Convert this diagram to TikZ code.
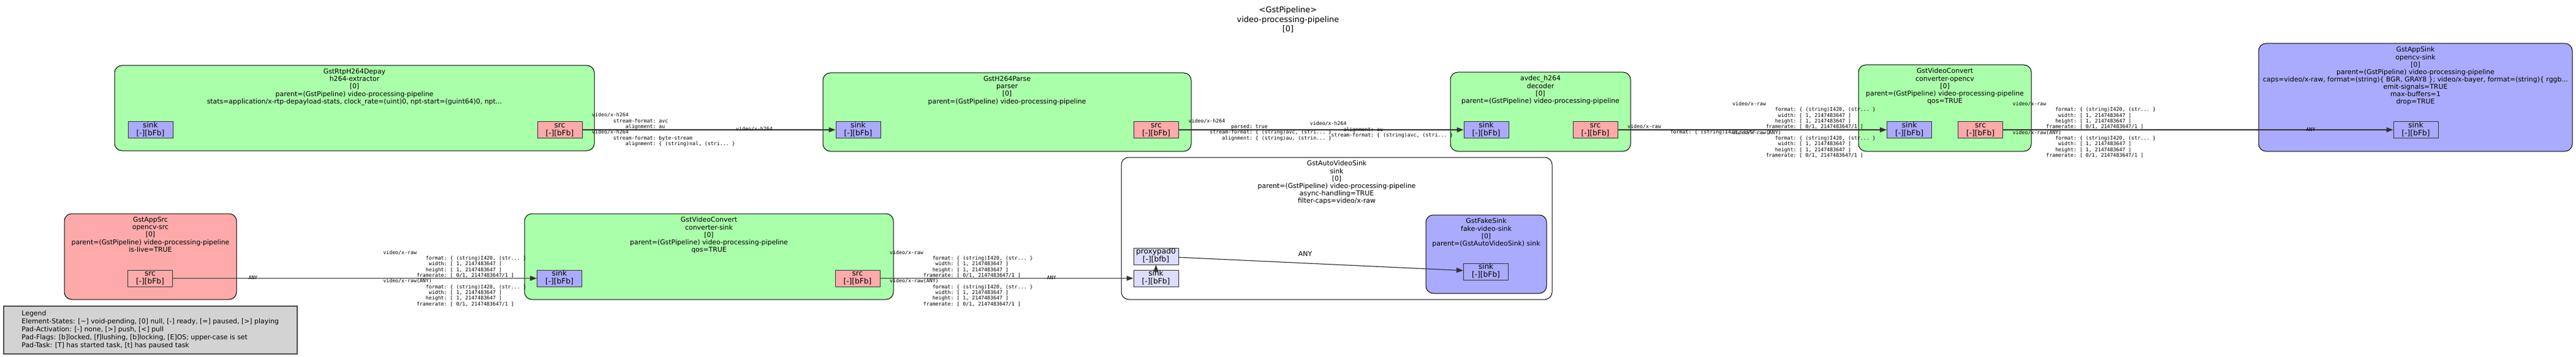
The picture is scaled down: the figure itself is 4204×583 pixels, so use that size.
\documentclass[tikz,border=0pt]{standalone}
\usepackage{fontspec}
\setmainfont{DejaVu Sans}
\newfontfamily\capsfamily{DejaVu Sans Mono}
\usetikzlibrary{positioning,arrows.meta}
\definecolor{elemgreen}{HTML}{AAFFAA}
\definecolor{elempink}{HTML}{FFAAAA}
\definecolor{elemblue}{HTML}{AAAAFF}
\definecolor{padghost}{HTML}{DDDDFF}
\definecolor{legendgray}{HTML}{D3D3D3}
\newcommand\capspad[1]{\hspace*{#1\fontcharwd\font`0}}
\newcommand\rawcaps{video/x-raw\\%
\capspad{14}format: \{ (string)I420, (str... \}\\%
\capspad{15}width: [ 1, 2147483647 ]\\%
\capspad{14}height: [ 1, 2147483647 ]\\%
\capspad{11}framerate: [ 0/1, 2147483647/1 ]\\%
video/x-raw(ANY)\\%
\capspad{14}format: \{ (string)I420, (str... \}\\%
\capspad{15}width: [ 1, 2147483647 ]\\%
\capspad{14}height: [ 1, 2147483647 ]\\%
\capspad{11}framerate: [ 0/1, 2147483647/1 ]}
\begin{document}
\begin{tikzpicture}
[x=1pt,y=-1pt,
  elemDecorate/.style={draw=black,line width=1pt,rounded corners=12pt,inner sep=0pt},%
  elemLabel/.style={font=\fontsize{10.9}{12.1}\selectfont,align=center,inner sep=0pt},%
  padDecorate/.style={draw=black!80,line width=1pt,inner sep=0pt,minimum width=73pt,%
    minimum height=27pt,align=center,font=\fontsize{12.2}{13.3}\selectfont},%
  capsDecorate/.style={font=\capsfamily\fontsize{8.25}{9.33}\selectfont\frenchspacing,%
    align=left,inner sep=0pt},%
  lineDecorate/.style={-{Triangle[length=11pt,width=8pt]},draw=black!80,line width=1.2pt},%
  legendDecorate/.style={draw=black!70,line width=1.5pt,fill=legendgray,anchor=north west,%
    minimum width=479pt,minimum height=78pt,align=left,inner sep=0pt,%
    font=\fontsize{10.9}{13}\selectfont}]
\useasboundingbox (0,0) rectangle (4204,583);
%% pipeline title
\node (pipelinetitle) at (2102,10.8) [anchor=north,align=center,inner sep=0pt,
  font=\fontsize{13}{15.5}\selectfont] {<GstPipeline>\\video-processing-pipeline\\{}[0]};
%% elements
\foreach \elname/\cx/\cy/\w/\h/\colour in {
  depay/578.5/176.5/783/139/elemgreen, parse/1643.5/183/601/128/elemgreen,
  decoder/2514/182.5/294/129/elemgreen, cvtcv/3174/176.5/282/141/elemgreen,
  appsink/3942/159/512/176/elemblue, appsrc/245.5/419/281/140/elempink,
  cvtsink/1157/419/602/140/elemgreen, autosink/2181.5/373/703/232/white,
  fakesink/2425.5/415/197/128/elemblue}
{
  \node (\elname) at (\cx,\cy) [elemDecorate,fill=\colour,minimum width=\w pt,minimum height=\h pt] {};
}
\node [elemLabel,below=6pt of depay.north] (depaylabel) {GstRtpH264Depay\\h264-extractor\\{}[0]\\
  parent=(GstPipeline) video-processing-pipeline\\
  stats=application/x-rtp-depayload-stats, clock\_rate=(uint)0, npt-start=(guint64)0, npt...};
\node [elemLabel,below=6pt of parse.north] (parselabel) {GstH264Parse\\parser\\{}[0]\\
  parent=(GstPipeline) video-processing-pipeline};
\node [elemLabel,below=6pt of decoder.north] (decoderlabel) {avdec\_h264\\decoder\\{}[0]\\
  parent=(GstPipeline) video-processing-pipeline};
\node [elemLabel,below=6pt of cvtcv.north] (cvtcvlabel) {GstVideoConvert\\converter-opencv\\{}[0]\\
  parent=(GstPipeline) video-processing-pipeline\\qos=TRUE};
\node [elemLabel,below=6pt of appsink.north] (appsinklabel) {GstAppSink\\opencv-sink\\{}[0]\\
  parent=(GstPipeline) video-processing-pipeline\\
  caps=video/x-raw, format=(string)\{ BGR, GRAY8 \}; video/x-bayer, format=(string)\{ rggb...\\
  emit-signals=TRUE\\max-buffers=1\\drop=TRUE};
\node [elemLabel,below=6pt of appsrc.north] (appsrclabel) {GstAppSrc\\opencv-src\\{}[0]\\
  parent=(GstPipeline) video-processing-pipeline\\is-live=TRUE};
\node [elemLabel,below=6pt of cvtsink.north] (cvtsinklabel) {GstVideoConvert\\converter-sink\\{}[0]\\
  parent=(GstPipeline) video-processing-pipeline\\qos=TRUE};
\node [elemLabel,below=6pt of autosink.north] (autosinklabel) {GstAutoVideoSink\\sink\\{}[0]\\
  parent=(GstPipeline) video-processing-pipeline\\async-handling=TRUE\\filter-caps=video/x-raw};
\node [elemLabel,below=6pt of fakesink.north] (fakesinklabel) {GstFakeSink\\fake-video-sink\\{}[0]\\
  parent=(GstAutoVideoSink) sink};
%% pads
\foreach \padname/\cx/\cy/\padlabel/\padflags/\colour in {
  depaysink/245.5/212/sink/[-][bFb]/elemblue, depaysrc/913.5/212/src/[-][bFb]/elempink,
  parsesink/1400.5/212/sink/[-][bFb]/elemblue, parsesrc/1887/212/src/[-][bFb]/elempink,
  decsink/2425.5/212/sink/[-][bFb]/elemblue, decsrc/2603.5/212/src/[-][bFb]/elempink,
  cvtcvsink/3116/212/sink/[-][bFb]/elemblue, cvtcvsrc/3232/212/src/[-][bFb]/elempink,
  appsinksink/3942.5/212/sink/[-][bFb]/elemblue, appsrcsrc/245/454.5/src/[-][bFb]/elempink,
  cvtsinksink/913/454.5/sink/[-][bFb]/elemblue, cvtsinksrc/1399.5/454.5/src/[-][bFb]/elempink,
  avsproxy/1886.5/418.5/proxypad0/[-][bfb]/padghost, avssink/1886.5/454.5/sink/[-][bFb]/padghost,
  fakesinksink/2425/443.5/sink/[-][bFb]/elemblue}
{
  \node (\padname) at (\cx,\cy) [padDecorate,fill=\colour] {\strut\padlabel\\\strut\padflags};
}
%% links
\path
\foreach \startnode/\endnode in {depaysrc/parsesink, parsesrc/decsink, decsrc/cvtcvsink,
  cvtcvsrc/appsinksink, appsrcsrc/cvtsinksink, cvtsinksrc/avssink, avssink/avsproxy,
  avsproxy/fakesinksink}
{
  (\startnode) edge[lineDecorate] node {} (\endnode)
};
%% caps labels
\node [capsDecorate,right=15.5pt of depaysrc] (depaycaps) {video/x-h264\\
  \capspad{7}stream-format: avc\\\capspad{11}alignment: au\\video/x-h264\\
  \capspad{7}stream-format: byte-stream\\\capspad{11}alignment: \{ (string)nal, (stri... \}};
\node [capsDecorate] (parsesinkcaps) at (1231,211) {video/x-h264};
\node [capsDecorate,right=15.5pt of parsesrc] (parsecaps) {video/x-h264\\
  \capspad{14}parsed: true\\\capspad{7}stream-format: \{ (string)avc, (stri... \}\\
  \capspad{11}alignment: \{ (string)au, (strin... \}};
\node [capsDecorate,left=17pt of decsink] (decsinkcaps) {video/x-h264\\
  \capspad{11}alignment: au\\\capspad{7}stream-format: \{ (string)avc, (stri... \}};
\node [capsDecorate,right=15.5pt of decsrc] (decsrccaps) {video/x-raw\\
  \capspad{14}format: \{ (string)I420, (str... \}};
\node [capsDecorate,left=18pt of cvtcvsink] (cvtcvsinkcaps) {\rawcaps};
\node [capsDecorate,right=15.5pt of cvtcvsrc] (cvtcvsrccaps) {\rawcaps};
\node [capsDecorate] (appsinkany) at (3771,211) {ANY};
\node [capsDecorate] (appsrcany) at (413,453) {ANY};
\node [capsDecorate,left=17pt of cvtsinksink] (cvtsinksinkcaps) {\rawcaps};
\node [capsDecorate,right=15.5pt of cvtsinksrc] (cvtsinksrccaps) {\rawcaps};
\node [capsDecorate] (autosinkany) at (1716,453) {ANY};
\node [elemLabel] (proxyany) at (2130,415) {ANY};
%% legend
\node (legend) [legendDecorate] at (5,499) {Legend\\
  Element-States: [\textasciitilde] void-pending, [0] null, [-] ready, [=] paused, [>] playing\\
  Pad-Activation: [-] none, [>] push, [<] pull\\
  Pad-Flags: [b]locked, [f]lushing, [b]locking, [E]OS; upper-case is set\\
  Pad-Task: [T] has started task, [t] has paused task};
\end{tikzpicture}
\end{document}
